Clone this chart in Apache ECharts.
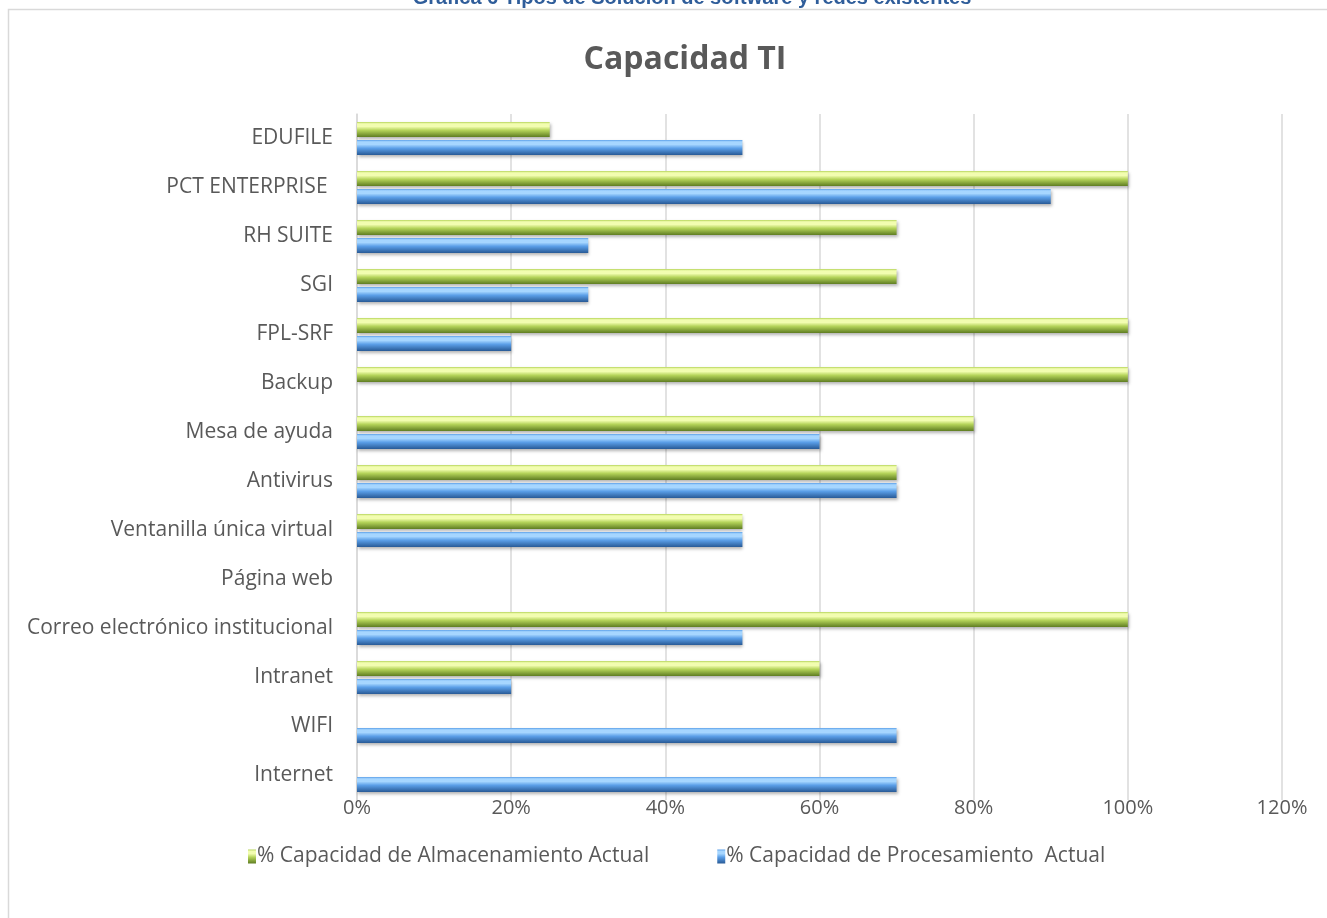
<!DOCTYPE html>
<html>
<head>
<meta charset="utf-8">
<script src="https://cdn.jsdelivr.net/npm/echarts@6/dist/echarts.min.js"></script>
<style>
    html, body { margin: 0; padding: 0; background: #fff; }
    #chart { width: 1327px; height: 918px; }
</style>
</head>
<body>
<div id="chart"></div>
<script>
var categories = [
    "Internet",
    "WIFI",
    "Intranet",
    "Correo electrónico institucional",
    "Página web",
    "Ventanilla única virtual",
    "Antivirus",
    "Mesa de ayuda",
    "Backup",
    "FPL-SRF",
    "SGI",
    "RH SUITE",
    "PCT ENTERPRISE ",
    "EDUFILE",
];

// % Capacidad de Procesamiento Actual
var procesamiento = [70, 70, 20, 50, 0, 50, 70, 60, 0, 20, 30, 30, 90, 50];
// % Capacidad de Almacenamiento Actual
var almacenamiento = [0, 0, 60, 100, 0, 50, 70, 80, 100, 100, 70, 70, 100, 25];

var xTicks = [0, 20, 40, 60, 80, 100, 120];

var labelColor = "#595959";
var fontFamily = "'Open Sans', 'Noto Sans', sans-serif";

function bevel(light, mid, dark) {
    return new echarts.graphic.LinearGradient(0, 0, 0, 1, [
        { offset: 0, color: mid },
        { offset: 0.12, color: light },
        { offset: 0.3, color: light },
        { offset: 0.55, color: mid },
        { offset: 1, color: dark },
    ]);
}

// zero values draw nothing in the original
function noZero(arr) {
    return arr.map(function (v) {
        return v === 0 ? null : v;
    });
}

var barStyle = {
    shadowColor: "rgba(0,0,0,0.3)",
    shadowBlur: 3,
    shadowOffsetY: 2,
    shadowOffsetX: 1,
};

var option = {
    animation: false,
    backgroundColor: "#fff",
    graphic: [
        {
            type: "rect",
            shape: { x: 8.5, y: 9.5, width: 1330, height: 920 },
            style: { fill: "none", stroke: "#d9d9d9", lineWidth: 1.5 },
            z: -1,
        },
        {
            type: "text",
            x: 692,
            y: -12,
            style: {
                text: "Gráfica 6 Tipos de Solución de software y redes existentes",
                fill: "#2f5d9a",
                align: "center",
                font: "bold 20px 'Liberation Sans', Arial, sans-serif",
            },
        },
    ],
    title: {
        text: "Capacidad TI",
        left: 680,
        textAlign: "center",
        top: 39,
        textStyle: {
            color: labelColor,
            fontFamily: fontFamily,
            fontWeight: "bold",
            fontSize: 32,
        },
    },
    legend: {
        bottom: 46,
        left: 243,
        itemGap: 68,
        icon: "rect",
        itemWidth: 8,
        itemHeight: 14,
        data: [
            "% Capacidad de Almacenamiento Actual",
            "% Capacidad de Procesamiento  Actual",
        ],
        textStyle: {
            color: labelColor,
            fontFamily: fontFamily,
            fontSize: 21,
            padding: [0, 0, 0, -4],
        },
    },
    grid: {
        left: 357,
        right: 45,
        top: 114,
        bottom: 118,
        containLabel: false,
    },
    xAxis: {
        type: "value",
        min: 0,
        max: 120,
        interval: 20,
        axisLine: { show: false },
        axisTick: { show: false },
        splitLine: { lineStyle: { color: "#d9d9d9", width: 1.5 } },
        axisLabel: {
            color: labelColor,
            fontFamily: fontFamily,
            fontSize: 20,
            margin: -2,
            formatter: function (v) {
                return xTicks.indexOf(v) >= 0 ? v + "%" : "";
            },
        },
    },
    yAxis: {
        type: "category",
        data: categories,
        axisLine: { lineStyle: { color: "#d9d9d9", width: 1.5 } },
        axisTick: { show: false },
        axisLabel: {
            color: labelColor,
            fontFamily: fontFamily,
            fontSize: 21,
            margin: 24,
        },
    },
    series: [
        {
            name: "% Capacidad de Almacenamiento Actual",
            type: "bar",
            barWidth: 15,
            barGap: "20%",
            data: noZero(almacenamiento),
            itemStyle: Object.assign({
                color: bevel("#f2fdb0", "#b5d45a", "#5f7d22"),
            }, barStyle),
        },
        {
            name: "% Capacidad de Procesamiento  Actual",
            type: "bar",
            barWidth: 15,
            barGap: "20%",
            data: noZero(procesamiento),
            itemStyle: Object.assign({
                color: bevel("#a6d6ff", "#5b9fe8", "#285a96"),
            }, barStyle),
        },
    ],
};

var chartDom = document.getElementById("chart");
var myChart = echarts.init(chartDom);
option && myChart.setOption(option);
</script>
</body>
</html>
